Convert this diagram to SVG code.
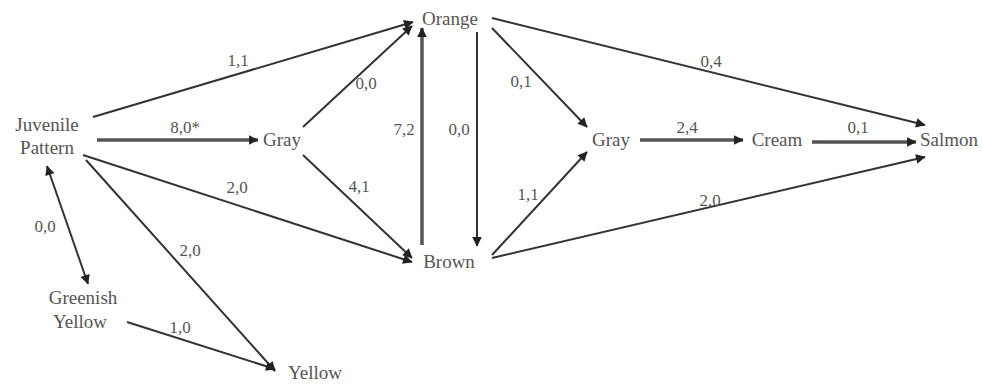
<svg xmlns="http://www.w3.org/2000/svg" width="982" height="385" viewBox="0 0 982 385" font-family="'Liberation Serif', 'DejaVu Serif', serif">
<style>
text{font-size:19px;fill:#555;text-anchor:middle}
.e{stroke:#333;stroke-width:2;fill:none;marker-end:url(#ah)}
.t{stroke:#555;stroke-width:3.5}
.lbl text{font-size:17px}
</style>
<defs>
<marker id="ah" viewBox="0 0 10 10" refX="9" refY="5" markerWidth="6" markerHeight="6" markerUnits="userSpaceOnUse" orient="auto-start-reverse" style="overflow:visible">
<path d="M0,0 L10,5 L0,10 z" fill="#222" transform="scale(1.6) translate(-3.7,-1.9)"/>
</marker>
</defs>
<rect width="982" height="385" fill="#fff"/>
<g id="connectors">
<line class="e" x1="93" y1="117" x2="413" y2="22"/>
<line class="e t" x1="97" y1="140" x2="258" y2="140"/>
<line class="e" x1="83" y1="155" x2="412" y2="262"/>
<line class="e" x1="86" y1="160" x2="275" y2="371"/>
<line class="e" x1="88" y1="284" x2="47" y2="166" style="marker-start:url(#ah)"/>
<line class="e" x1="127" y1="322" x2="275" y2="369"/>
<line class="e" x1="303" y1="127" x2="412" y2="26"/>
<line class="e" x1="303" y1="155" x2="412" y2="258"/>
<line class="e t" x1="422" y1="245" x2="422" y2="28"/>
<line class="e" x1="477" y1="32" x2="477" y2="246"/>
<line class="e" x1="492" y1="28" x2="587" y2="127"/>
<line class="e" x1="492" y1="18" x2="925" y2="125"/>
<line class="e t" x1="640" y1="140" x2="743" y2="140"/>
<line class="e t" x1="812" y1="142" x2="916" y2="142"/>
<line class="e" x1="492" y1="255" x2="587" y2="152"/>
<line class="e" x1="492" y1="258" x2="925" y2="157"/>
<g class="lbl">
<text x="238" y="66">1,1</text>
<text x="185" y="133">8,0*</text>
<text x="237" y="193">2,0</text>
<text x="190" y="256">2,0</text>
<text x="45" y="232">0,0</text>
<text x="180" y="333">1,0</text>
<text x="366" y="89">0,0</text>
<text x="359" y="192">4,1</text>
<text x="404" y="135">7,2</text>
<text x="459" y="135">0,0</text>
<text x="521" y="87">0,1</text>
<text x="711" y="67">0,4</text>
<text x="687" y="133">2,4</text>
<text x="858" y="133">0,1</text>
<text x="528" y="200">1,1</text>
<text x="710" y="206">2,0</text>
</g>
</g>
<g id="juvenile"><text x="47" y="131">Juvenile</text><text x="47" y="154">Pattern</text></g>
<g id="gray1"><text x="282" y="146">Gray</text></g>
<g id="orange"><text x="450" y="25">Orange</text></g>
<g id="brown"><text x="449" y="268">Brown</text></g>
<g id="gray2"><text x="611" y="146">Gray</text></g>
<g id="cream"><text x="777" y="146">Cream</text></g>
<g id="salmon"><text x="920" y="146" style="text-anchor:start">Salmon</text></g>
<g id="greenish"><text x="83" y="304">Greenish</text><text x="80" y="328">Yellow</text></g>
<g id="yellow"><text x="288" y="379" style="text-anchor:start">Yellow</text></g>
</svg>
